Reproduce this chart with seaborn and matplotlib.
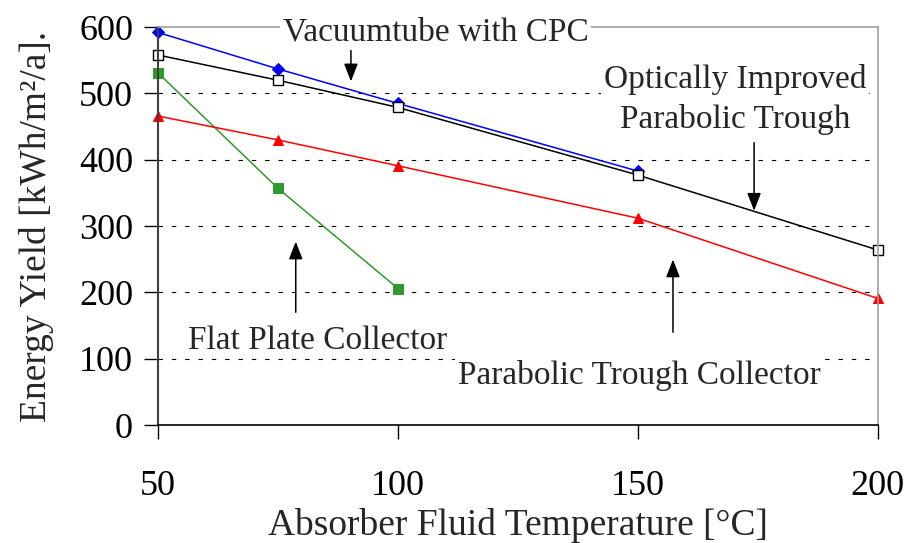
import matplotlib
matplotlib.use('Agg')
import matplotlib.pyplot as plt
import seaborn as sns

temps_vac = [50, 75, 100, 150]
yield_vac = [592, 537, 485, 383]

temps_opt = [50, 75, 100, 150, 200]
yield_opt = [558, 520, 479, 377, 264]

temps_flat = [50, 75, 100]
yield_flat = [531, 357, 206]

temps_ptc = [50, 75, 100, 150, 200]
yield_ptc = [466, 430, 391, 312, 191]

sns.set_theme(style='white')
plt.rcParams['font.family'] = ['Liberation Serif', 'DejaVu Serif']

fig = plt.figure(figsize=(9.06, 5.43), dpi=100)
ax = fig.add_axes([0.1744, 0.217, 0.7946, 0.733])

sns.lineplot(x=temps_vac, y=yield_vac, ax=ax, color='blue', marker='D',
             markersize=6, markeredgecolor='blue', linewidth=1.1, clip_on=False)
sns.lineplot(x=temps_opt, y=yield_opt, ax=ax, color='black', marker='s',
             markersize=7, markerfacecolor='white', markeredgecolor='black',
             markeredgewidth=1.0, linewidth=1.1, clip_on=False)
sns.lineplot(x=temps_flat, y=yield_flat, ax=ax, color='#2e9a2e', marker='s',
             markersize=7, markeredgecolor='#2e9a2e', linewidth=1.1, clip_on=False)
sns.lineplot(x=temps_ptc, y=yield_ptc, ax=ax, color='red', marker='^',
             markersize=7, markeredgecolor='red', linewidth=1.1, clip_on=False)

ax.set_xlim(50, 200)
ax.set_ylim(0, 600)
ax.set_xticks([50, 100, 150, 200])
ax.set_yticks(range(0, 601, 100))
for y in range(100, 600, 100):
    ax.axhline(y, color='black', linestyle=(0, (4, 8)), linewidth=0.8, zorder=0)

ax.tick_params(axis='both', labelsize=26, direction='out', length=10, width=1,
               colors='black', left=True, bottom=True)
ax.tick_params(axis='x', pad=22)
ax.tick_params(axis='y', pad=8)
ax.set_xlabel('Absorber Fluid Temperature [°C]', fontsize=27, labelpad=4)
ax.set_ylabel('Energy Yield [kWh/m²/a].', fontsize=27, labelpad=18)

for side in ['top', 'right']:
    ax.spines[side].set_color('#a0a0a0')
    ax.spines[side].set_linewidth(1.2)
ax.spines['left'].set_color('#404040')
ax.spines['left'].set_linewidth(1.5)
ax.spines['bottom'].set_color('black')
ax.spines['bottom'].set_linewidth(1.2)
for s in ax.spines.values():
    s.set_visible(True)

box = dict(facecolor='white', edgecolor='none', pad=2)
arrow = dict(arrowstyle='-|>,head_width=0.35,head_length=0.9', color='black', lw=1.1)

ax.text(76, 593, 'Vacuumtube with CPC', fontsize=24, ha='left', va='center',
        bbox=box, zorder=5, clip_on=False)
ax.annotate('', xy=(90.2, 514), xytext=(90.2, 569), arrowprops=arrow)

ax.text(170.2, 491, 'Optically Improved\nParabolic Trough', fontsize=24,
        ha='center', va='center', linespacing=1.35, bbox=box, zorder=5)
ax.annotate('', xy=(174.2, 319), xytext=(174.2, 430), arrowprops=arrow)

ax.text(56.2, 128, 'Flat Plate Collector', fontsize=24, ha='left', va='center',
        bbox=box, zorder=5)
ax.annotate('', xy=(78.7, 281), xytext=(78.7, 166), arrowprops=arrow)

ax.text(112.5, 75, 'Parabolic Trough Collector', fontsize=24, ha='left', va='center',
        bbox=box, zorder=5)
ax.annotate('', xy=(157.3, 254), xytext=(157.3, 136), arrowprops=arrow)

fig.savefig('out.png', dpi=100)
